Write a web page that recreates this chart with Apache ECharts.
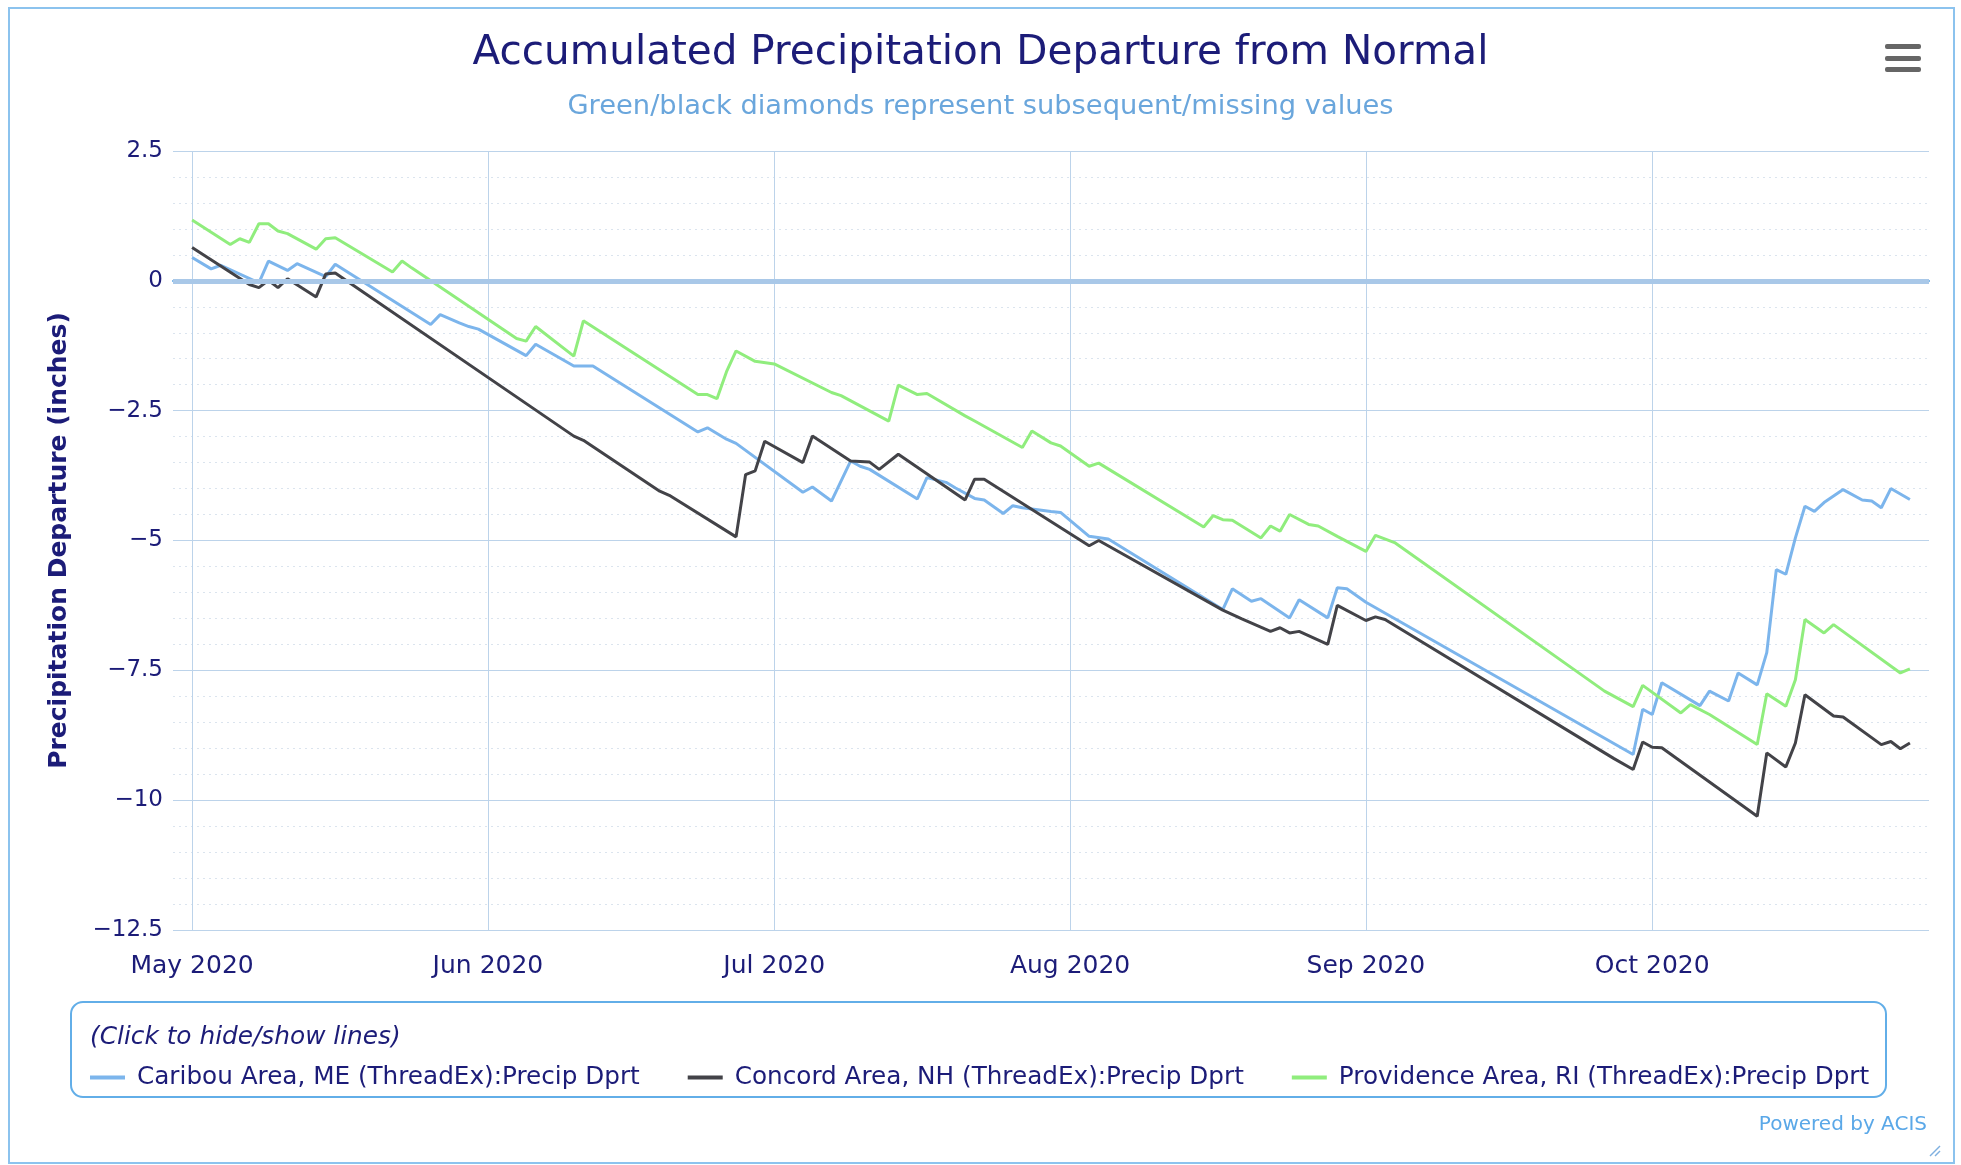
<!DOCTYPE html>
<html>
<head>
<meta charset="utf-8">
<title>Accumulated Precipitation Departure from Normal</title>
<script src="https://cdn.jsdelivr.net/npm/echarts@6/dist/echarts.min.js"></script>
<style>
  html, body { margin: 0; padding: 0; background: #fff; }
  #chart { width: 1961px; height: 1165px; }
</style>
</head>
<body>
<div id="chart"></div>
<script>
  // month ticks on the x axis
  var monthTicks = ['2020-05-01', '2020-06-01', '2020-07-01', '2020-08-01', '2020-09-01', '2020-10-01'];

  // Caribou Area, ME
  var caribouDates = ['2020-05-01','2020-05-03','2020-05-04','2020-05-08','2020-05-09','2020-05-11','2020-05-12','2020-05-15','2020-05-16','2020-05-26',
    '2020-05-27','2020-05-29','2020-05-30','2020-05-31','2020-06-05','2020-06-06','2020-06-10','2020-06-12','2020-06-23','2020-06-24',
    '2020-06-26','2020-06-27','2020-07-04','2020-07-05','2020-07-07','2020-07-09','2020-07-10','2020-07-11','2020-07-16','2020-07-17',
    '2020-07-19','2020-07-20','2020-07-22','2020-07-23','2020-07-25','2020-07-26','2020-07-27','2020-07-30','2020-07-31','2020-08-03',
    '2020-08-05','2020-08-17','2020-08-18','2020-08-20','2020-08-21','2020-08-24','2020-08-25','2020-08-28','2020-08-29','2020-08-30',
    '2020-09-01','2020-09-29','2020-09-30','2020-10-01','2020-10-02','2020-10-06','2020-10-07','2020-10-09','2020-10-10','2020-10-12',
    '2020-10-13','2020-10-14','2020-10-15','2020-10-16','2020-10-17','2020-10-18','2020-10-19','2020-10-21','2020-10-23','2020-10-24',
    '2020-10-25','2020-10-26','2020-10-28'];
  var caribouValues = [0.45, 0.23, 0.30, -0.04, 0.38, 0.20, 0.33, 0.08, 0.32, -0.84,
    -0.65, -0.81, -0.88, -0.93, -1.44, -1.22, -1.64, -1.64, -2.91, -2.83,
    -3.05, -3.13, -4.07, -3.97, -4.24, -3.47, -3.57, -3.63, -4.20, -3.79,
    -3.88, -3.99, -4.19, -4.22, -4.48, -4.33, -4.37, -4.44, -4.46, -4.92,
    -4.97, -6.33, -5.93, -6.17, -6.12, -6.49, -6.14, -6.49, -5.91, -5.93,
    -6.19, -9.12, -8.25, -8.35, -7.74, -8.18, -7.90, -8.09, -7.55, -7.78,
    -7.16, -5.56, -5.65, -4.95, -4.34, -4.44, -4.27, -4.02, -4.22, -4.24,
    -4.37, -4.00, -4.21];

  // Concord Area, NH
  var concordDates = ['2020-05-01','2020-05-07','2020-05-08','2020-05-09','2020-05-10','2020-05-11','2020-05-14','2020-05-15','2020-05-16','2020-06-10',
    '2020-06-11','2020-06-19','2020-06-20','2020-06-27','2020-06-28','2020-06-29','2020-06-30','2020-07-04','2020-07-05','2020-07-09',
    '2020-07-11','2020-07-12','2020-07-14','2020-07-21','2020-07-22','2020-07-23','2020-08-03','2020-08-04','2020-08-17','2020-08-19',
    '2020-08-22','2020-08-23','2020-08-24','2020-08-25','2020-08-28','2020-08-29','2020-09-01','2020-09-02','2020-09-03','2020-09-27',
    '2020-09-29','2020-09-30','2020-10-01','2020-10-02','2020-10-12','2020-10-13','2020-10-15','2020-10-16','2020-10-17','2020-10-20',
    '2020-10-21','2020-10-25','2020-10-26','2020-10-27','2020-10-28'];
  var concordValues = [0.64, -0.07, -0.13, 0.01, -0.13, 0.04, -0.31, 0.13, 0.15, -2.99,
    -3.07, -4.05, -4.13, -4.93, -3.73, -3.66, -3.09, -3.50, -2.99, -3.47,
    -3.49, -3.63, -3.34, -4.22, -3.82, -3.82, -5.10, -5.00, -6.34, -6.51,
    -6.75, -6.68, -6.78, -6.75, -7.00, -6.25, -6.54, -6.47, -6.52, -9.20,
    -9.41, -8.88, -8.98, -8.99, -10.31, -9.09, -9.36, -8.90, -7.97, -8.38,
    -8.40, -8.93, -8.87, -9.01, -8.90];

  // Providence Area, RI
  var providenceDates = ['2020-05-01','2020-05-05','2020-05-06','2020-05-07','2020-05-08','2020-05-09','2020-05-10','2020-05-11','2020-05-14','2020-05-15',
    '2020-05-16','2020-05-22','2020-05-23','2020-05-24','2020-06-04','2020-06-05','2020-06-06','2020-06-10','2020-06-11','2020-06-23',
    '2020-06-24','2020-06-25','2020-06-26','2020-06-27','2020-06-29','2020-07-01','2020-07-07','2020-07-08','2020-07-13','2020-07-14',
    '2020-07-16','2020-07-17','2020-07-21','2020-07-22','2020-07-27','2020-07-28','2020-07-30','2020-07-31','2020-08-03','2020-08-04',
    '2020-08-15','2020-08-16','2020-08-17','2020-08-18','2020-08-21','2020-08-22','2020-08-23','2020-08-24','2020-08-26','2020-08-27',
    '2020-08-29','2020-09-01','2020-09-02','2020-09-04','2020-09-26','2020-09-29','2020-09-30','2020-10-04','2020-10-05','2020-10-07',
    '2020-10-12','2020-10-13','2020-10-15','2020-10-16','2020-10-17','2020-10-19','2020-10-20','2020-10-27','2020-10-28'];
  var providenceValues = [1.17, 0.70, 0.81, 0.74, 1.10, 1.10, 0.96, 0.91, 0.61, 0.81,
    0.83, 0.17, 0.38, 0.25, -1.11, -1.16, -0.88, -1.45, -0.77, -2.19,
    -2.19, -2.27, -1.75, -1.35, -1.55, -1.60, -2.15, -2.21, -2.70, -2.01,
    -2.19, -2.17, -2.60, -2.70, -3.21, -2.89, -3.12, -3.18, -3.57, -3.51,
    -4.74, -4.52, -4.60, -4.61, -4.95, -4.72, -4.82, -4.50, -4.69, -4.72,
    -4.92, -5.21, -4.90, -5.04, -7.90, -8.20, -7.79, -8.32, -8.16, -8.35,
    -8.93, -7.95, -8.19, -7.68, -6.52, -6.78, -6.62, -7.55, -7.47];

  var seriesNames = ['Caribou Area, ME (ThreadEx):Precip Dprt', 'Concord Area, NH (ThreadEx):Precip Dprt', 'Providence Area, RI (ThreadEx):Precip Dprt'];

  function pairs(dates, values) {
    return dates.map(function (d, i) { return [d, values[i]]; });
  }

  var font = "'DejaVu Sans', sans-serif";
  var navy = '#1c1c78';
  var gridBlue = '#bcd3ea';

  var chart = echarts.init(document.getElementById('chart'));
  var option = {
    backgroundColor: '#fff',
    animation: false,
    color: ['#7cb5ec', '#434348', '#90ed7d'],
    title: [{
      text: 'Accumulated Precipitation Departure from Normal',
      left: 'center',
      top: 33,
      padding: 0,
      textStyle: { fontFamily: font, fontSize: 40.5, fontWeight: 'normal', color: navy, lineHeight: 40 }
    }, {
      text: 'Green/black diamonds represent subsequent/missing values',
      left: 'center',
      top: 93,
      padding: 0,
      textStyle: { fontFamily: font, fontSize: 27.3, fontWeight: 'normal', color: '#6aa6dc', lineHeight: 27 }
    }],
    legend: {
      left: 90,
      top: 1065,
      padding: 0,
      itemGap: 48,
      itemWidth: 35,
      itemHeight: 4,
      icon: 'rect',
      textStyle: { fontFamily: font, fontSize: 24.7, color: navy, lineHeight: 24, padding: [0, 0, 0, 7] },
      data: seriesNames
    },
    grid: { left: 173, right: 32, top: 151, bottom: 235 },
    xAxis: {
      type: 'time',
      min: '2020-04-29',
      max: '2020-10-30',
      axisLine: { lineStyle: { color: '#58a6e6', width: 2 } },
      axisTick: { customValues: monthTicks, length: 17, lineStyle: { color: gridBlue } },
      axisLabel: {
        customValues: monthTicks,
        formatter: '{MMM} {yyyy}',
        margin: 24,
        fontFamily: font,
        fontSize: 25,
        lineHeight: 24,
        color: navy
      },
      splitLine: { show: true, lineStyle: { color: gridBlue, width: 1 } }
    },
    yAxis: {
      type: 'value',
      min: -12.5,
      max: 2.5,
      interval: 2.5,
      name: 'Precipitation Departure (inches)',
      nameLocation: 'middle',
      nameGap: 101,
      nameTextStyle: { fontFamily: font, fontSize: 25, fontWeight: 'bold', color: navy },
      axisLine: { show: false },
      axisTick: { show: false },
      axisLabel: {
        margin: 10,
        fontFamily: font,
        fontSize: 23,
        color: navy,
        formatter: function (v) { return String(v).replace('-', '\u2212'); }
      },
      splitLine: { lineStyle: { color: gridBlue, width: 1 } },
      minorTick: { show: false, splitNumber: 5 },
      minorSplitLine: { show: true, lineStyle: { color: '#dbe4ee', width: 1, type: [2, 4] } }
    },
    graphic: [
      // outer frame
      { type: 'rect', silent: true, z: -10, shape: { x: 9, y: 8, width: 1945, height: 1155 },
        style: { fill: 'none', stroke: '#8cc3ee', lineWidth: 2 } },
      // legend box + title
      { type: 'rect', silent: true, shape: { x: 71, y: 1002, width: 1815, height: 95, r: 12 },
        style: { fill: 'none', stroke: '#62aee8', lineWidth: 2 } },
      { type: 'text', silent: true, x: 90, y: 1038,
        style: { text: '(Click to hide/show lines)', fontFamily: font, fontSize: 24.8, fontStyle: 'italic', fill: navy, verticalAlign: 'middle' } },
      // credits
      { type: 'text', silent: true, x: 1927, y: 1125,
        style: { text: 'Powered by ACIS', fontFamily: font, fontSize: 20, fill: '#5aa8e8', align: 'right', verticalAlign: 'middle' } },
      // menu button
      { type: 'rect', silent: true, shape: { x: 1885, y: 44, width: 36, height: 5, r: 2 }, style: { fill: '#666' } },
      { type: 'rect', silent: true, shape: { x: 1885, y: 56, width: 36, height: 5, r: 2 }, style: { fill: '#666' } },
      { type: 'rect', silent: true, shape: { x: 1885, y: 67, width: 36, height: 5, r: 2 }, style: { fill: '#666' } },
      // resize grip
      { type: 'line', silent: true, shape: { x1: 1940, y1: 1146, x2: 1930, y2: 1156 }, style: { stroke: '#7fb0e0', lineWidth: 1.5 } },
      { type: 'line', silent: true, shape: { x1: 1940, y1: 1151, x2: 1935, y2: 1156 }, style: { stroke: '#7fb0e0', lineWidth: 1.5 } }
    ],
    series: [{
      name: seriesNames[0],
      type: 'line',
      symbol: 'none',
      z: 3,
      lineStyle: { width: 3 },
      data: pairs(caribouDates, caribouValues)
    }, {
      name: seriesNames[1],
      type: 'line',
      symbol: 'none',
      z: 3,
      lineStyle: { width: 3 },
      data: pairs(concordDates, concordValues)
    }, {
      name: seriesNames[2],
      type: 'line',
      symbol: 'none',
      z: 3,
      lineStyle: { width: 3 },
      data: pairs(providenceDates, providenceValues)
    }, {
      // zero reference line
      type: 'line',
      z: 1,
      data: [],
      markLine: {
        silent: true,
        symbol: 'none',
        label: { show: false },
        lineStyle: { color: '#a9c8e8', width: 5, type: 'solid' },
        data: [{ yAxis: 0 }]
      }
    }]
  };
  chart.setOption(option);
</script>
</body>
</html>
